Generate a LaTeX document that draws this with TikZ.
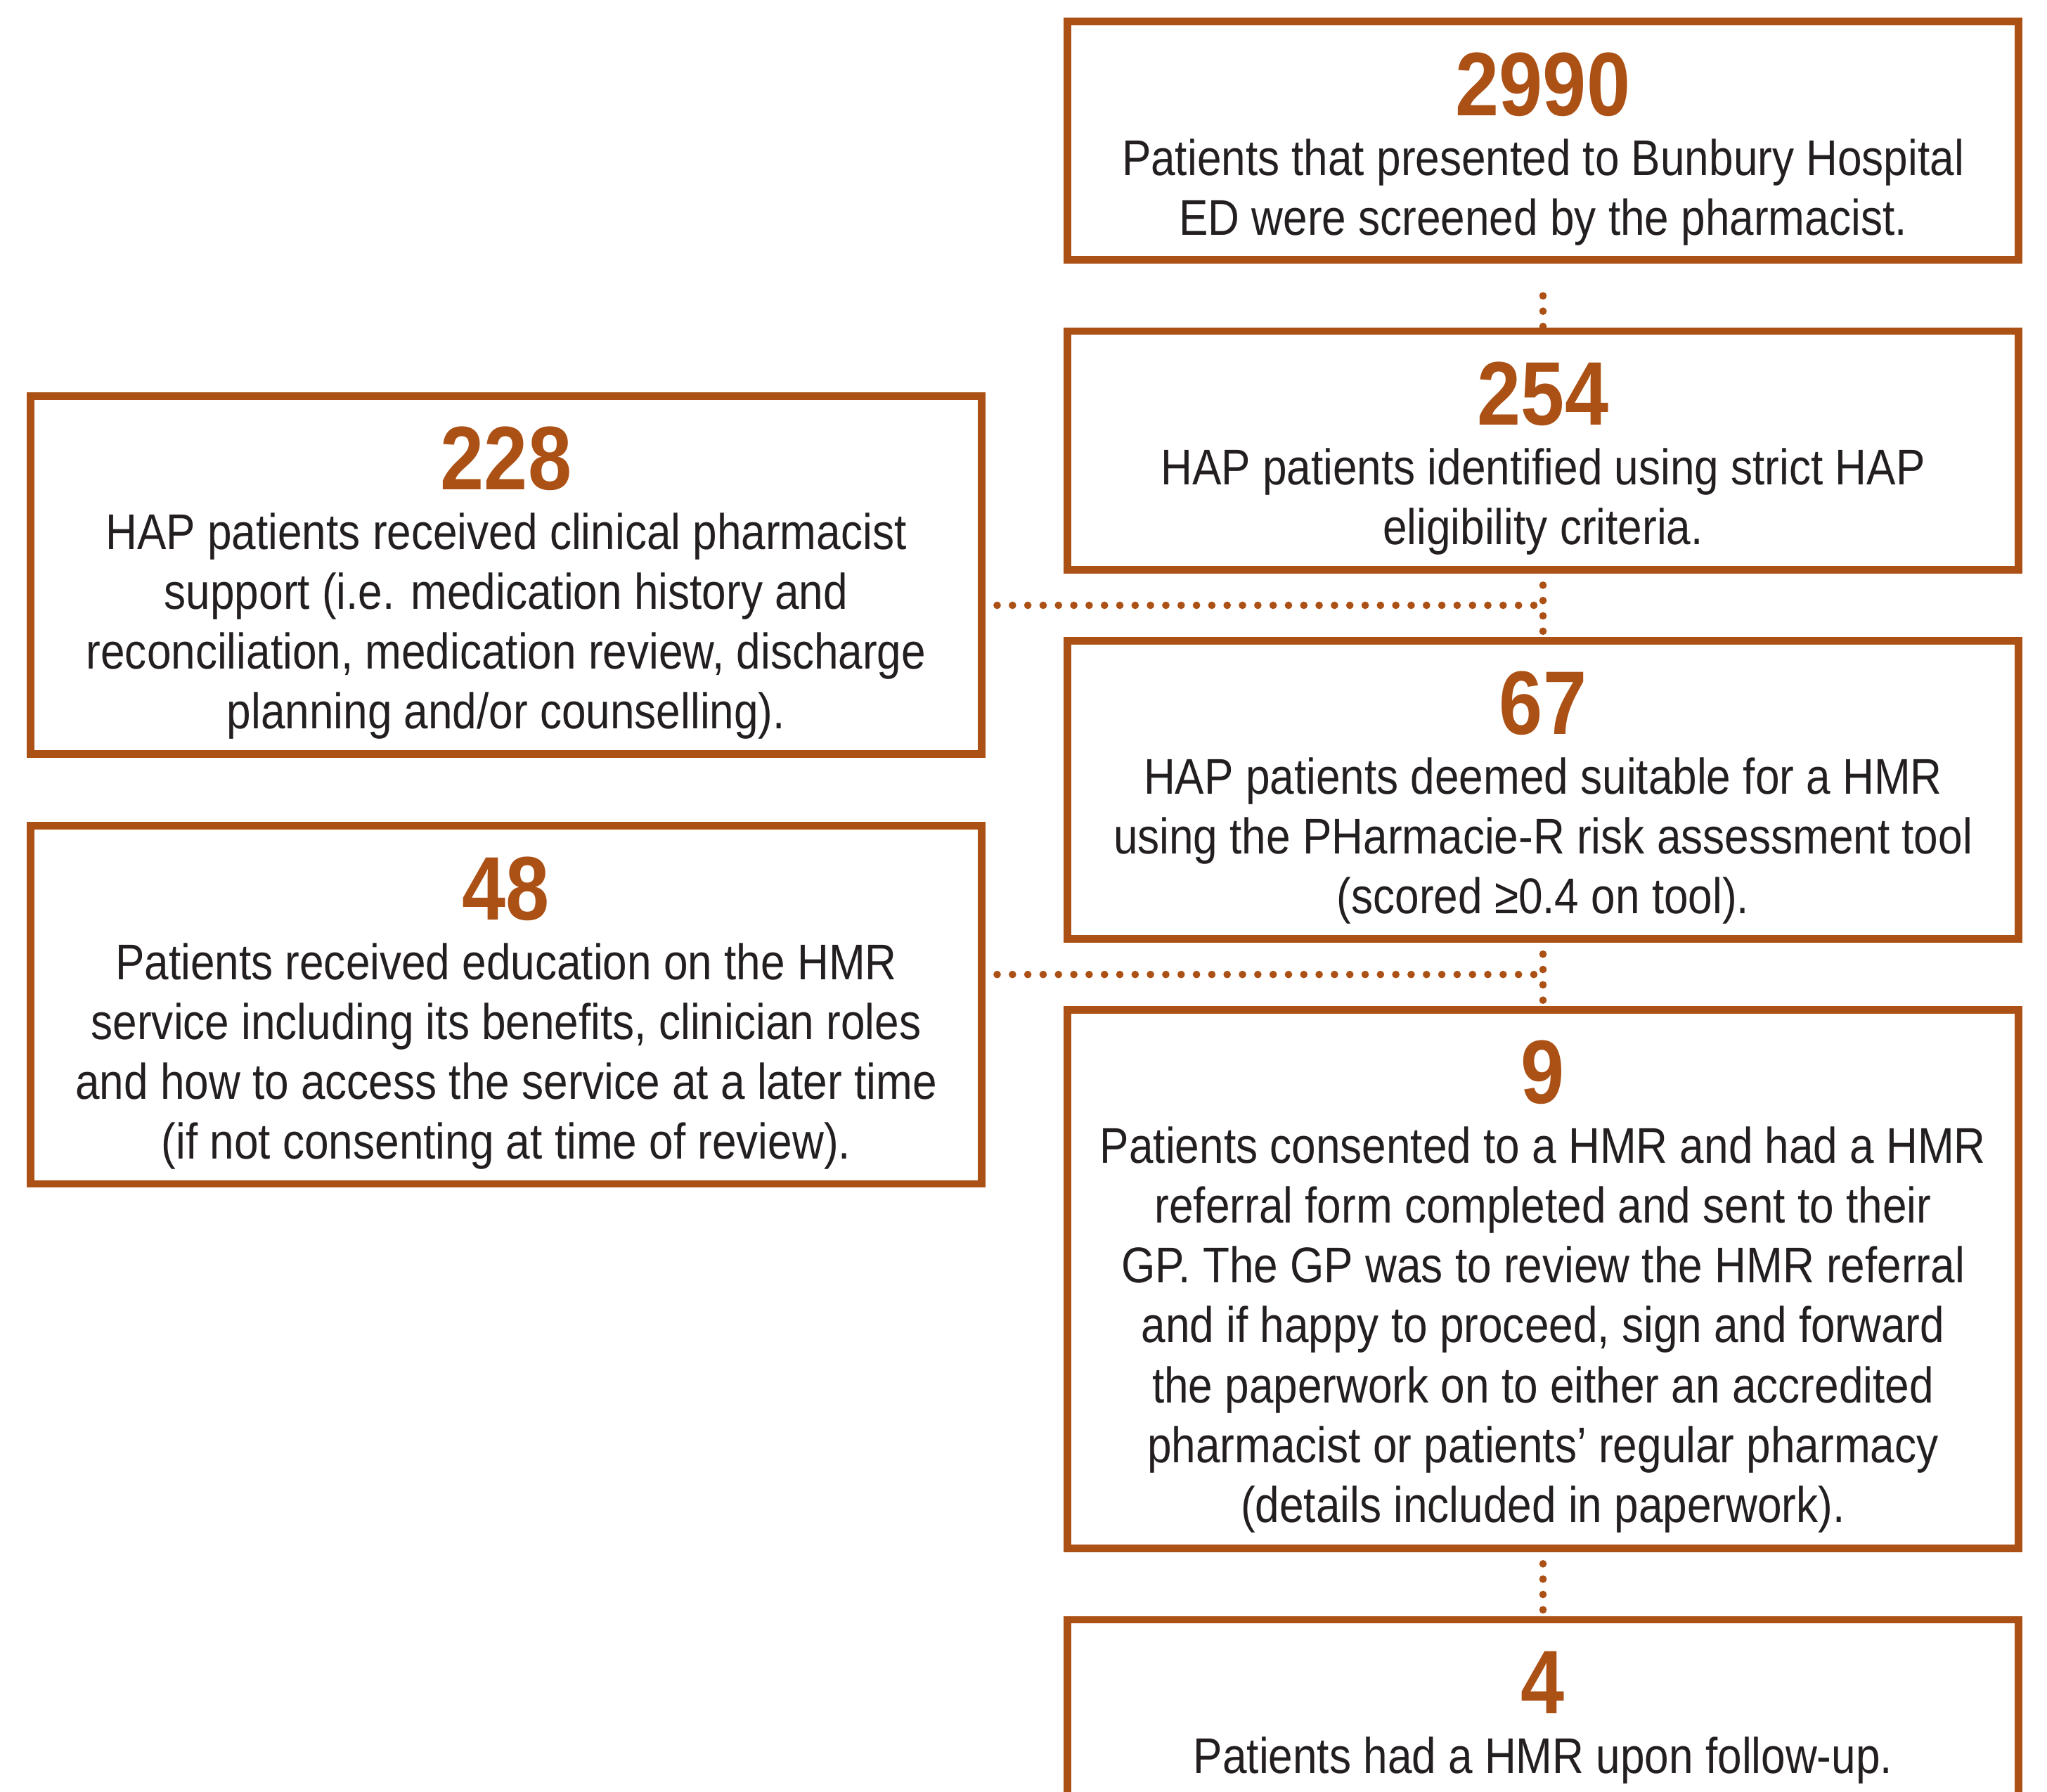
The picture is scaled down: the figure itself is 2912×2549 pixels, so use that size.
\documentclass[tikz,border=0pt]{standalone}
\usepackage{fontspec}
\setmainfont{Liberation Sans}[FakeStretch=0.87]
\definecolor{rust}{RGB}{172,81,22}
\definecolor{ink}{RGB}{35,31,32}
\tikzset{
  box/.style={draw=rust, line width=0.107cm, minimum width=13.526cm, inner sep=0pt, outer sep=0pt},
  txt/.style={align=center, inner sep=0pt, outer sep=0pt, text=ink, anchor=north,
    font=\fontsize{20.3}{24.2}\selectfont},
  dots/.style={draw=rust, line width=0.107cm, dash pattern=on 0pt off 0.218cm, line cap=round},
}
\newcommand\bignum[1]{{\color{rust}\fontsize{36.5}{40}\selectfont\bfseries #1}}
\begin{document}
\begin{tikzpicture}[x=0.01cm, y=-0.01cm]
\useasboundingbox (0,0) rectangle (2912,2549);
\clip (0,0) rectangle (2912,2549);
% boxes
\node[box, minimum height=3.390cm] (b1) at (2195,200.2) {};
\node[box, minimum height=3.395cm] (b2) at (2195,640.75) {};
\node[box, minimum height=4.238cm] (b3) at (2195,1123.4) {};
\node[box, minimum height=7.653cm] (b4) at (2195,1819.7) {};
\node[box, minimum height=2.76cm] (b5) at (2195,2442) {};
\node[box, minimum height=5.092cm] (bA) at (720,818.1) {};
\node[box, minimum height=5.094cm] (bB) at (720,1429) {};
% texts
\node[txt] (t1) at ([yshift=-0.44cm]b1.north) {\bignum{2990}\\Patients that presented to Bunbury Hospital\\ED were screened by the pharmacist.};
\node[txt] (t2) at ([yshift=-0.44cm]b2.north) {\bignum{254}\\HAP patients identified using strict HAP\\eligibility criteria.};
\node[txt] (t3) at ([yshift=-0.435cm]b3.north) {\bignum{67}\\HAP patients deemed suitable for a HMR\\using the PHarmacie-R risk assessment tool\\(scored ≥0.4 on tool).};
\node[txt] (t4) at ([yshift=-0.43cm]b4.north) {\bignum{9}\\Patients consented to a HMR and had a HMR\\referral form completed and sent to their\\GP. The GP was to review the HMR referral\\and if happy to proceed, sign and forward\\the paperwork on to either an accredited\\pharmacist or patients’ regular pharmacy\\(details included in paperwork).};
\node[txt] (t5) at ([yshift=-0.45cm]b5.north) {\bignum{4}\\Patients had a HMR upon follow-up.};
\node[txt] (tA) at ([yshift=-0.43cm]bA.north) {\bignum{228}\\HAP patients received clinical pharmacist\\support (i.e. medication history and\\reconciliation, medication review, discharge\\planning and/or counselling).};
\node[txt] (tB) at ([yshift=-0.445cm]bB.north) {\bignum{48}\\Patients received education on the HMR\\service including its benefits, clinician roles\\and how to access the service at a later time\\(if not consenting at time of review).};
% junctions
\path (b2.south) -- (b3.north) coordinate[pos=0.5] (j1);
\path (b3.south) -- (b4.north) coordinate[pos=0.5] (j2);
% connectors
\draw[dots, shorten <=0.51cm] (b1.south) -- (b2.north);
\draw[dots] (b2.south) -- (b3.north);
\draw[dots] (b3.south) -- (b4.north);
\draw[dots] (b4.south) -- (b5.north);
\draw[dots] (bA.east |- j1) -- (j1);
\draw[dots] (bB.east |- j2) -- (j2);
\end{tikzpicture}
\end{document}
